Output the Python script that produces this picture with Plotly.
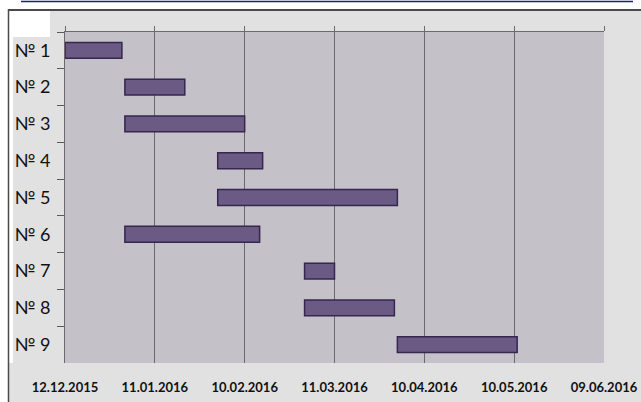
import pandas as pd
import plotly.graph_objects as go

tasks = ["№ 1", "№ 2", "№ 3", "№ 4", "№ 5", "№ 6", "№ 7", "№ 8", "№ 9"]
start_dates = ["2015-12-12", "2016-01-01", "2016-01-01", "2016-02-01", "2016-02-01",
               "2016-01-01", "2016-03-01", "2016-03-01", "2016-04-01"]
end_dates = ["2015-12-31", "2016-01-21", "2016-02-10", "2016-02-16", "2016-04-01",
             "2016-02-15", "2016-03-11", "2016-03-31", "2016-05-11"]
tick_dates = ["2015-12-12", "2016-01-11", "2016-02-10", "2016-03-11",
              "2016-04-10", "2016-05-10", "2016-06-09"]
tick_text = ["12.12.2015", "11.01.2016", "10.02.2016", "11.03.2016",
             "10.04.2016", "10.05.2016", "09.06.2016"]

durations_ms = [(pd.Timestamp(e) - pd.Timestamp(s)).total_seconds() * 1000
                for s, e in zip(start_dates, end_dates)]

W, H = 641, 402
L, R, T, B = 65, 37, 32, 39
PW, PH = W - L - R, H - T - B


def px_x(p):
    return (p - L) / PW


def px_y(p):
    return (H - B - p) / PH


fig = go.Figure()
fig.add_trace(go.Bar(
    y=tasks, x=durations_ms, base=start_dates, orientation="h",
    width=0.43,
    marker=dict(color="#6b5a84", line=dict(color="#35274f", width=1.5)),
    showlegend=False, hoverinfo="skip",
))
fig.add_trace(go.Scatter(x=[], y=[], xaxis="x2", yaxis="y", showlegend=False))

shapes = [
    dict(type="rect", xref="paper", yref="paper", x0=px_x(0), x1=px_x(8), y0=px_y(402), y1=px_y(0),
         fillcolor="white", line=dict(width=0), layer="below"),
    dict(type="rect", xref="paper", yref="paper", x0=px_x(0), x1=px_x(641), y0=px_y(9), y1=px_y(0),
         fillcolor="white", line=dict(width=0), layer="below"),
    dict(type="rect", xref="paper", yref="paper", x0=px_x(8), x1=px_x(13), y0=px_y(363), y1=px_y(9),
         fillcolor="white", line=dict(width=0), layer="below"),
    dict(type="rect", xref="paper", yref="paper", x0=px_x(8), x1=px_x(50), y0=px_y(37), y1=px_y(9),
         fillcolor="white", line=dict(width=0), layer="below"),
    dict(type="line", xref="paper", yref="paper", x0=px_x(8), x1=px_x(641), y0=px_y(10), y1=px_y(10),
         line=dict(color="#4a4a4a", width=2), layer="above"),
    dict(type="line", xref="paper", yref="paper", x0=px_x(8.5), x1=px_x(8.5), y0=px_y(402), y1=px_y(9),
         line=dict(color="#4a4a4a", width=1.5), layer="above"),
    dict(type="line", xref="paper", yref="paper", x0=px_x(21), x1=px_x(633), y0=px_y(1.5), y1=px_y(1.5),
         line=dict(color="#1c1c88", width=1.5), layer="above"),
]

fig.update_layout(
    width=W, height=H,
    margin=dict(l=L, r=R, t=T, b=B, pad=0, autoexpand=False),
    paper_bgcolor="#e1e1e1",
    plot_bgcolor="#c4c1c9",
    shapes=shapes,
    xaxis=dict(
        type="date", range=[tick_dates[0], tick_dates[-1]],
        tickvals=tick_dates, ticktext=tick_text, automargin=False,
        showgrid=True, gridcolor="#6a6a6a", gridwidth=1,
        ticks="outside", ticklen=12, tickcolor="rgba(0,0,0,0)",
        showline=False, zeroline=False,
        tickfont=dict(family="Lato", size=13, color="#111111", weight="bold"),
    ),
    xaxis2=dict(
        type="date", overlaying="x", side="top", anchor="y", automargin=False,
        range=[tick_dates[0], tick_dates[-1]],
        tickvals=tick_dates, showticklabels=False,
        ticks="outside", ticklen=5, tickcolor="#6a6a6a",
        showline=True, linecolor="#6a6a6a", linewidth=1,
        showgrid=False, zeroline=False,
    ),
    yaxis=dict(
        type="category", categoryorder="array", categoryarray=tasks,
        autorange="reversed", tickson="boundaries", automargin=False,
        ticks="outside", ticklen=7, tickcolor="#5a5a5a", tickwidth=1,
        showline=True, linecolor="#6a6a6a", linewidth=1,
        showgrid=False, zeroline=False, ticklabelstandoff=10,
        tickfont=dict(family="Lato", size=18, color="#111111"),
    ),
)

fig.write_html("out.html", config={"displayModeBar": False},
               post_script="document.body.style.margin='0px';")
